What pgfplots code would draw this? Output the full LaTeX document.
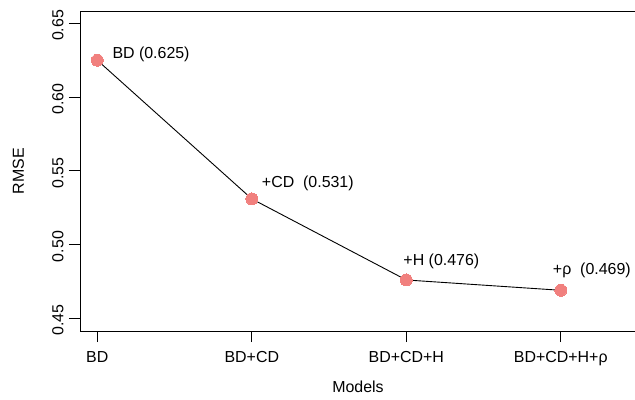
\documentclass[border=0pt]{standalone}
\usepackage{fontspec}
\setmainfont{Liberation Sans}
\usepackage{pgfplots}
\pgfplotsset{compat=1.18}
\definecolor{dotred}{RGB}{241,128,126}

\begin{document}
\fontsize{16}{19}\selectfont
\begin{tikzpicture}
\useasboundingbox (-80bp,-69bp) rectangle (555bp,331bp);
\clip (-80bp,-69bp) rectangle (555bp,331bp);
\begin{axis}[
  at={(0,0)}, anchor=south west,
  scale only axis, width=556bp, height=320bp,
  xmin=-0.112, xmax=3.487,
  ymin=0.4414, ymax=0.6584,
  xtick={0,1,2,3},
  xticklabels={BD,BD+CD,BD+CD+H,BD+CD+H+ρ},
  ytick={0.45,0.50,0.55,0.60,0.65},
  tick align=outside,
  major tick length=11bp,
  xtick pos=bottom, ytick pos=left,
  axis line style={line width=0.9bp},
  tick style={black, line width=0.9bp},
  xticklabel style={yshift=-4bp},
  yticklabel style={rotate=90, anchor=south, xshift=-2bp},
  /pgf/number format/.cd, fixed, fixed zerofill, precision=2, assume math mode=true,
  /pgfplots/.cd,
  xlabel={Models}, ylabel={RMSE},
  xlabel style={at={(axis description cs:0.5,-0.175)}, anchor=center},
  ylabel style={at={(axis description cs:-0.1106,0.5)}, anchor=center},
]
\addplot[black, line width=0.9bp, mark=*, mark size=6bp,
  mark options={draw=dotred, fill=dotred, line width=0pt}] coordinates {
  (0,0.625) (1,0.531) (2,0.476) (3,0.469)
};
\node[anchor=west, inner sep=0pt, xshift=15bp, yshift=6bp] at (axis cs:0,0.625) {BD (0.625)};
\node[anchor=west, inner sep=0pt, xshift=10bp, yshift=15bp] at (axis cs:1,0.531) {+CD\ \ (0.531)};
\node[anchor=west, inner sep=0pt, xshift=-3bp, yshift=19bp] at (axis cs:2,0.476) {+H (0.476)};
\node[anchor=west, inner sep=0pt, xshift=-8bp, yshift=20bp] at (axis cs:3,0.469) {+ρ\ \ (0.469)};
\end{axis}
\end{tikzpicture}
\end{document}
